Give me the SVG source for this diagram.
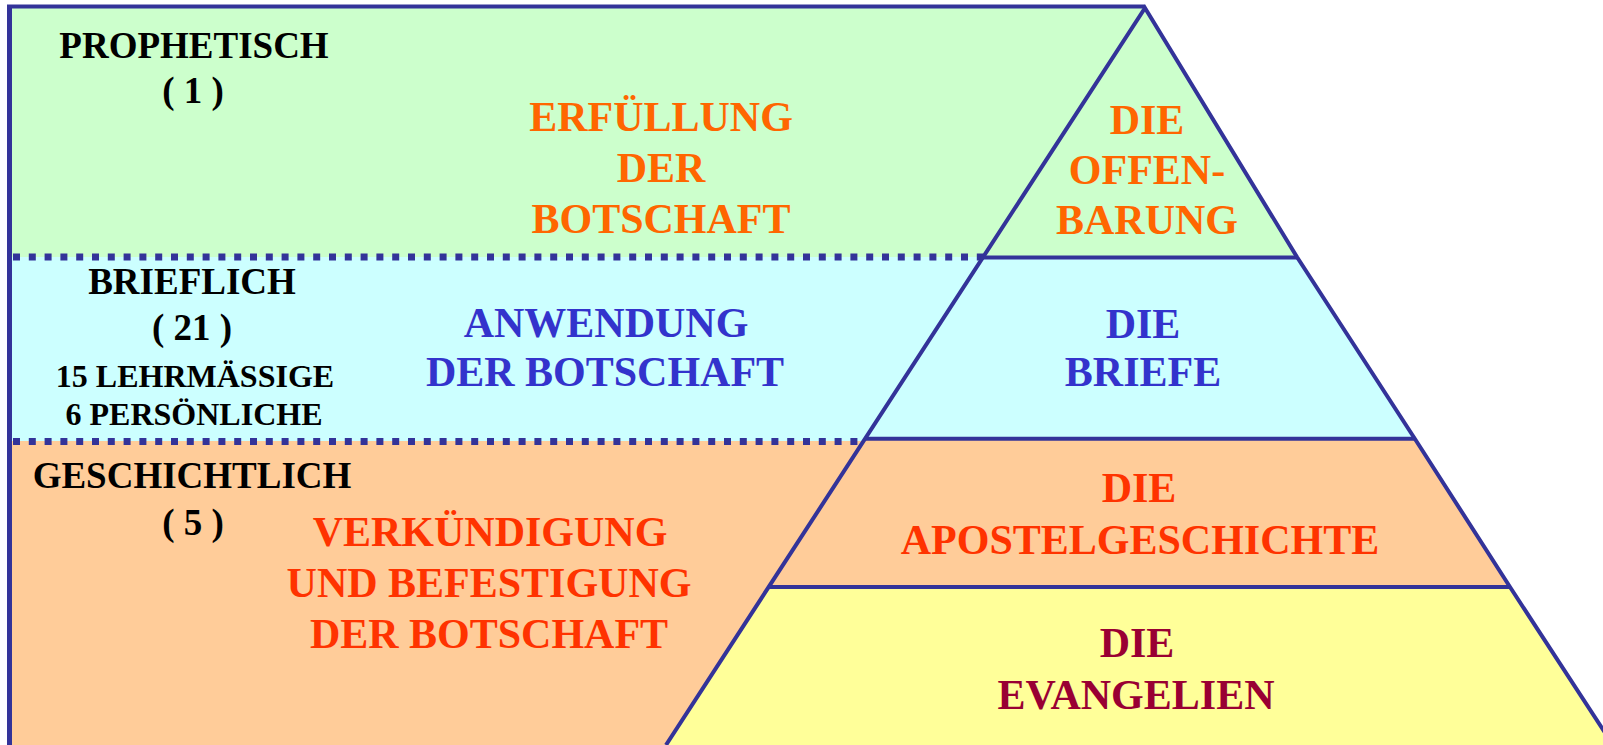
<svg xmlns="http://www.w3.org/2000/svg" width="1603" height="745" viewBox="0 0 1603 745">
<style>
text{font-family:"Liberation Serif","Times New Roman",serif;font-weight:bold;text-anchor:middle}
.lbl{font-size:37px;fill:#000}
.sm{font-size:32px;fill:#000}
.big{font-size:42px}
.or{fill:#FF6600}
.rd{fill:#FF3300}
.bl{fill:#3333CC}
.dr{fill:#990033}
.edge{stroke:#333399;stroke-width:4;fill:none;stroke-linejoin:miter}
.dot{stroke:#333399;stroke-width:7;stroke-dasharray:7 8.8;fill:none}
</style>
<rect width="1603" height="745" fill="#fff"/>
<g id="panel-prophetisch">
<rect x="12" y="8" width="1133" height="249" fill="#CCFFCC"/>
<text class="lbl" x="194" y="58">PROPHETISCH</text>
<text class="lbl" x="193" y="103">( 1 )</text>
<text class="big or" x="661" y="131">ERFÜLLUNG</text>
<text class="big or" x="661" y="182">DER</text>
<text class="big or" x="661" y="233">BOTSCHAFT</text>
</g>
<g id="panel-brieflich">
<rect x="12" y="257" width="972" height="184" fill="#CCFFFF"/>
<text class="lbl" x="192" y="294">BRIEFLICH</text>
<text class="lbl" x="192" y="340">( 21 )</text>
<text class="sm" x="195" y="387">15 LEHRMÄSSIGE</text>
<text class="sm" x="194" y="425">6 PERSÖNLICHE</text>
<text class="big bl" x="606" y="337">ANWENDUNG</text>
<text class="big bl" x="605" y="386">DER BOTSCHAFT</text>
</g>
<g id="panel-geschichtlich">
<rect x="12" y="441" width="860" height="304" fill="#FFCC99"/>
<text class="lbl" x="192" y="488">GESCHICHTLICH</text>
<text class="lbl" x="193" y="535">( 5 )</text>
<text class="big rd" x="490" y="546">VERKÜNDIGUNG</text>
<text class="big rd" x="489" y="597">UND BEFESTIGUNG</text>
<text class="big rd" x="489" y="648">DER BOTSCHAFT</text>
</g>
<g id="level-offenbarung">
<polygon points="1145,8 983,257 1297,257" fill="#CCFFCC"/>
<text class="big or" x="1147" y="134">DIE</text>
<text class="big or" x="1147" y="184">OFFEN-</text>
<text class="big or" x="1147" y="234">BARUNG</text>
</g>
<g id="level-briefe">
<polygon points="983,257 1297,257 1415,439 865,439" fill="#CCFFFF"/>
<text class="big bl" x="1143" y="338">DIE</text>
<text class="big bl" x="1143" y="386">BRIEFE</text>
</g>
<g id="level-apostelgeschichte">
<polygon points="865,439 1415,439 1510,587 769,587" fill="#FFCC99"/>
<text class="big rd" x="1139" y="502">DIE</text>
<text class="big rd" x="1140" y="554">APOSTELGESCHICHTE</text>
</g>
<g id="level-evangelien">
<polygon points="769,587 1510,587 1613,745 666,745" fill="#FFFF99"/>
<text class="big dr" x="1137" y="657">DIE</text>
<text class="big dr" x="1136" y="709">EVANGELIEN</text>
</g>
<g id="connectors">
<line class="dot" x1="13" y1="257" x2="983" y2="257"/>
<line class="dot" x1="13" y1="441.5" x2="866" y2="441.5"/>
<line class="edge" x1="9.5" y1="5" x2="9.5" y2="745" style="stroke-width:5"/>
<line class="edge" x1="7" y1="6.5" x2="1145" y2="6.5"/>
<polyline class="edge" points="666,745 1145,8 1297,257 1415,439 1510,587 1613,745"/>
<line class="edge" x1="983" y1="257.5" x2="1297" y2="257.5"/>
<line class="edge" x1="865" y1="438.7" x2="1415" y2="438.7"/>
<line class="edge" x1="769" y1="587" x2="1510" y2="587"/>
</g>
</svg>
